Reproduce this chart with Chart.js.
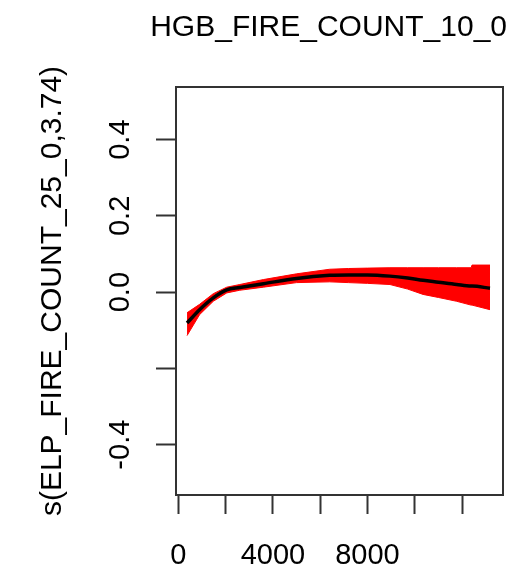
<!DOCTYPE html>
<html>
<head>
<meta charset="utf-8">
<script src="https://cdn.jsdelivr.net/npm/chart.js@4"></script>
<style>
  html, body { margin: 0; padding: 0; background: #fff; }
  #wrap { width: 514px; height: 567px; }
</style>
</head>
<body>
<div id="wrap"><canvas id="gamChart" width="514" height="567"></canvas></div>
<script>
// smooth term
const xVals = [370, 900, 1480, 2050, 2600, 3600, 5000, 6400, 7200, 8000, 8950, 9700, 10350, 11000, 11770, 12380, 12420, 13180];
const fitVals = [-0.081, -0.046, -0.015, 0.006, 0.012, 0.022, 0.036, 0.044, 0.045, 0.045, 0.042, 0.037, 0.031, 0.026, 0.020, 0.016, 0.016, 0.010];
const upperVals = [-0.054, -0.032, -0.004, 0.013, 0.020, 0.033, 0.048, 0.060, 0.062, 0.063, 0.064, 0.064, 0.064, 0.064, 0.064, 0.064, 0.071, 0.071];
const lowerVals = [-0.114, -0.059, -0.024, -0.002, 0.005, 0.013, 0.025, 0.027, 0.025, 0.023, 0.020, 0.008, -0.006, -0.014, -0.024, -0.034, -0.034, -0.046];

const xTicks = [0, 2000, 4000, 6000, 8000, 10000, 12000];
const xTickLabels = ['0', '', '4000', '', '8000', '', ''];
const yTicks = [-0.4, -0.2, 0, 0.2, 0.4];
const yTickLabels = ['-0.4', '', '0.0', '0.2', '0.4'];

const titleText = 'HGB_FIRE_COUNT_10_0';
const yTitleText = 's(ELP_FIRE_COUNT_25_0,3.74)';

const FAMILY = '"Liberation Sans", Arial, sans-serif';
const TICK_FONT = { family: FAMILY, size: 29 };
const TITLE_FONT = { family: FAMILY, size: 30, weight: 'normal' };

function pts(ys) {
  return xVals.map(function (x, i) { return { x: x, y: ys[i] }; });
}

// box around the plot region, title nudged a little right
const boxPlugin = {
  id: 'box',
  afterLayout: function (chart) {
    if (chart.titleBlock) {
      chart.titleBlock.left += 4;
      chart.titleBlock.right += 4;
    }
  },
  afterDatasetsDraw: function (chart) {
    const a = chart.chartArea;
    const ctx = chart.ctx;
    ctx.save();
    ctx.strokeStyle = '#333';
    ctx.lineWidth = 2;
    ctx.strokeRect(a.left, a.top, a.right - a.left, a.bottom - a.top);
    ctx.restore();
  }
};

const ctx = document.getElementById('gamChart').getContext('2d');
new Chart(ctx, {
  type: 'line',
  data: {
    datasets: [
      {
        label: 'lower',
        data: pts(lowerVals),
        borderColor: '#ff0000',
        borderWidth: 1,
        pointRadius: 0,
        fill: false,
        order: 2
      },
      {
        label: 'upper',
        data: pts(upperVals),
        borderColor: '#ff0000',
        borderWidth: 1,
        backgroundColor: '#ff0000',
        pointRadius: 0,
        fill: '-1',
        order: 1
      },
      {
        label: 'fit',
        data: pts(fitVals),
        borderColor: '#000',
        borderWidth: 3.5,
        pointRadius: 0,
        cubicInterpolationMode: 'monotone',
        fill: false,
        order: 0
      }
    ]
  },
  options: {
    responsive: false,
    animation: false,
    layout: { padding: { left: 0, right: 11, top: 0, bottom: 0 } },
    plugins: {
      legend: { display: false },
      tooltip: { enabled: false },
      title: {
        display: true,
        text: titleText,
        align: 'end',
        color: '#000',
        font: TITLE_FONT,
        padding: { top: 10, bottom: 41 }
      }
    },
    scales: {
      x: {
        type: 'linear',
        min: -97,
        max: 13730,
        afterBuildTicks: function (scale) {
          scale.ticks = xTicks.map(function (v) { return { value: v }; });
        },
        afterFit: function (scale) { scale.height = 72; },
        grid: { drawOnChartArea: false, tickLength: 19, tickWidth: 2, tickColor: '#333' },
        border: { display: true, color: '#333', width: 2 },
        ticks: {
          padding: 25,
          color: '#000',
          font: TICK_FONT,
          maxRotation: 0,
          autoSkip: false,
          callback: function (v) {
            const i = xTicks.indexOf(v);
            return i >= 0 ? xTickLabels[i] : '';
          }
        }
      },
      y: {
        type: 'linear',
        min: -0.532,
        max: 0.538,
        afterBuildTicks: function (scale) {
          scale.ticks = yTicks.map(function (v) { return { value: v }; });
        },
        afterFit: function (scale) { scale.width = 176; },
        grid: { drawOnChartArea: false, tickLength: 20, tickWidth: 2, tickColor: '#333' },
        border: { display: true, color: '#333', width: 2 },
        title: {
          display: true,
          text: yTitleText,
          color: '#000',
          font: TITLE_FONT,
          padding: { top: 35, bottom: 0 }
        },
        ticks: {
          padding: 10,
          color: '#000',
          font: TICK_FONT,
          minRotation: 90,
          maxRotation: 90,
          crossAlign: 'center',
          autoSkip: false,
          callback: function (v) {
            const i = yTicks.findIndex(function (t) { return Math.abs(t - v) < 1e-9; });
            return i >= 0 ? yTickLabels[i] : '';
          }
        }
      }
    }
  },
  plugins: [boxPlugin]
});
</script>
</body>
</html>
